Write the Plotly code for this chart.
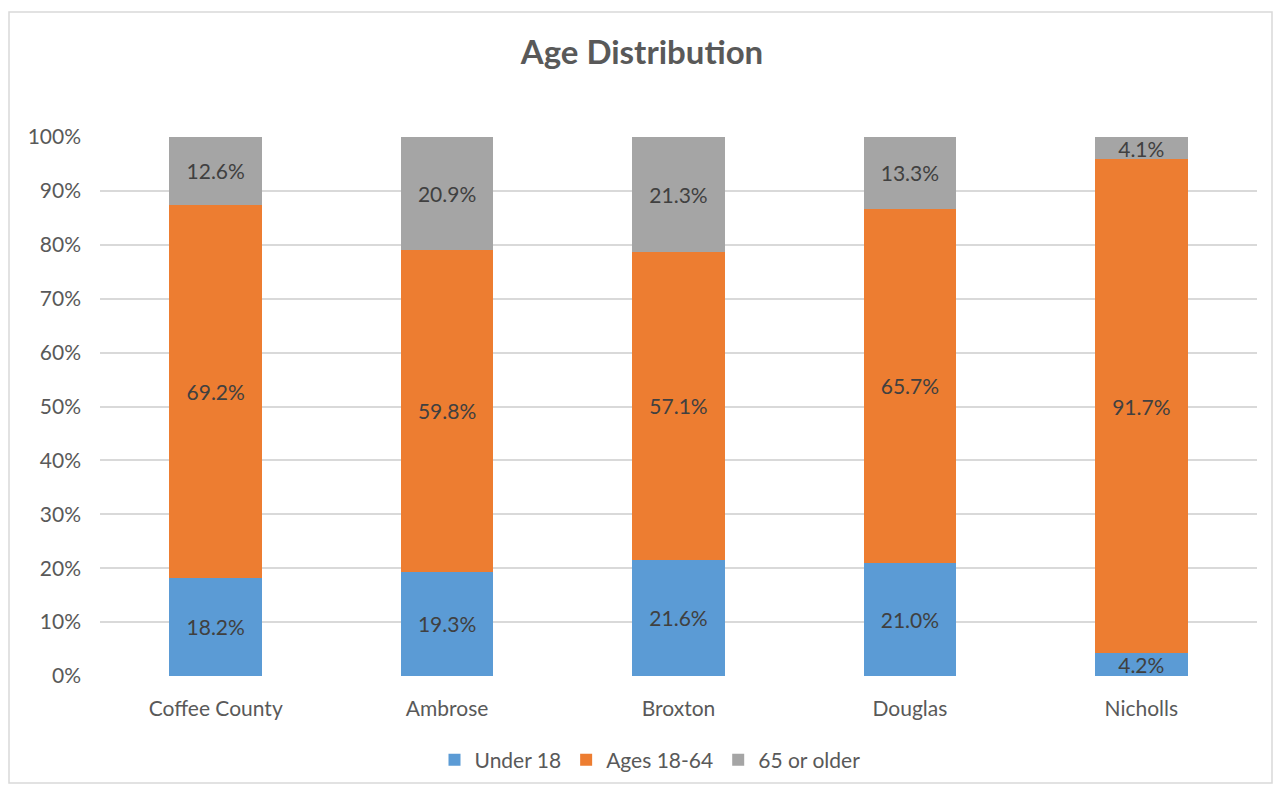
import plotly.graph_objects as go

categories = ["Coffee County", "Ambrose", "Broxton", "Douglas", "Nicholls"]
under_18 = [18.2, 19.3, 21.6, 21.0, 4.2]
ages_18_64 = [69.2, 59.8, 57.1, 65.7, 91.7]
over_65 = [12.6, 20.9, 21.3, 13.3, 4.1]
tick_vals = [0, 10, 20, 30, 40, 50, 60, 70, 80, 90, 100]
tick_text = [f"{v}%" for v in tick_vals]

FONT = "Lato"
TXT = "#595959"

# page body has an 8px margin; size figure so it sits at the right place
W, H = 1268, 779
L, T = 92, 129
PW, PH = 1157, 539
R = W - L - PW
B = H - T - PH

fig = go.Figure()
for name, vals, color in [
    ("Under 18", under_18, "#5B9BD5"),
    ("Ages 18-64", ages_18_64, "#ED7D31"),
    ("65 or older", over_65, "#A5A5A5"),
]:
    fig.add_trace(go.Bar(
        x=categories, y=vals, name=name,
        marker=dict(color=color, line=dict(width=0)),
        texttemplate="%{y:.1f}%", textposition="inside",
        insidetextanchor="middle", constraintext="none",
        textfont=dict(family=FONT, size=21, color="#404040"),
        hoverinfo="x+y+name",
    ))

fig.update_layout(
    barmode="stack",
    bargap=0.6,
    width=W, height=H,
    paper_bgcolor="white", plot_bgcolor="white",
    margin=dict(l=L, r=R, t=T, b=B, autoexpand=False),
    title=dict(text="<b>Age Distribution</b>", x=0.5, xanchor="center",
               y=1 - 44 / H, yanchor="middle",
               font=dict(family=FONT, size=33, color=TXT)),
    font=dict(family=FONT, size=21, color=TXT),
    legend=dict(orientation="h", x=(650 - 8 - L) / PW, xanchor="center",
                yref="container", y=(H - (760 - 8)) / H, yanchor="middle",
                font=dict(family=FONT, size=21, color=TXT), traceorder="normal"),
    xaxis=dict(showgrid=False, showline=False, ticks="", ticklabelstandoff=18,
               tickfont=dict(size=21, color=TXT)),
    yaxis=dict(range=[0, 100], tickvals=tick_vals, ticktext=tick_text,
               showgrid=True, gridcolor="#D9D9D9", gridwidth=1.5,
               zeroline=False, showline=False, ticks="", ticklabelstandoff=18,
               tickfont=dict(size=21, color=TXT)),
    shapes=[dict(type="rect", xref="paper", yref="paper",
                 x0=-(L - 1) / PW, x1=1 + (R - 4) / PW,
                 y0=-(B - 4) / PH, y1=1 + (T - 4) / PH,
                 line=dict(color="#D9D9D9", width=1.5), fillcolor="rgba(0,0,0,0)")],
)

fig.write_html("out.html")
